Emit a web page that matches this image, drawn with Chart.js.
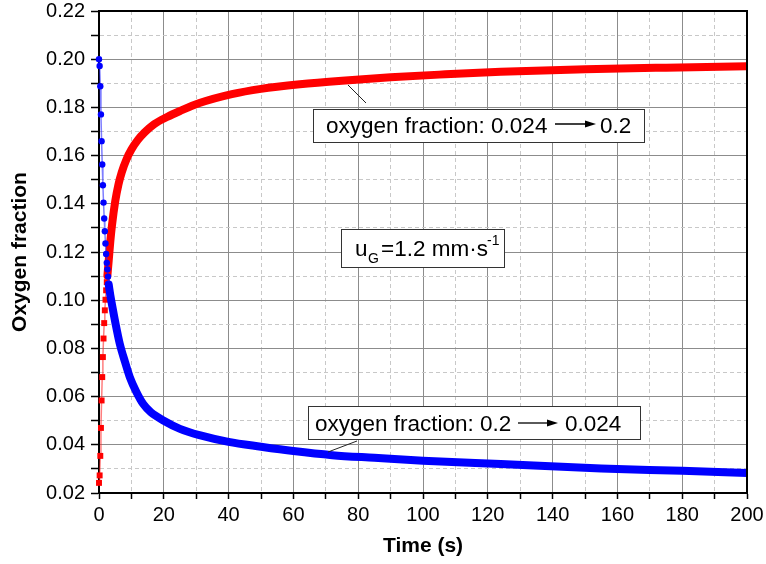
<!DOCTYPE html>
<html>
<head>
<meta charset="utf-8">
<script src="https://cdn.jsdelivr.net/npm/chart.js@4"></script>
<style>
  body { margin: 0; background: #fff; }
  #wrap { width: 766px; height: 564px; }
</style>
</head>
<body>
<div id="wrap"><canvas id="chart" width="766" height="564"></canvas></div>
<script>
// early samples (0.2 s step) drawn as individual markers
const blueStartTimes = [0, 0.2, 0.4, 0.6, 0.8, 1.0, 1.2, 1.4, 1.6, 1.8, 2.0, 2.2, 2.4, 2.6, 2.8, 3.0];
const blueStartValues = [0.2000, 0.1972, 0.1888, 0.1771, 0.1660, 0.1563, 0.1477, 0.1405, 0.1339, 0.1286, 0.1235, 0.1192, 0.1155, 0.1128, 0.1098, 0.1065];
const redStartTimes = [0, 0.2, 0.4, 0.6, 0.8, 1.0, 1.2, 1.4, 1.6, 1.8, 2.0, 2.2, 2.4, 2.6];
const redStartValues = [0.0242, 0.0273, 0.0354, 0.0470, 0.0584, 0.0681, 0.0764, 0.0841, 0.0905, 0.0958, 0.1002, 0.1041, 0.1075, 0.1103];

// dense part of the runs (markers overlap into a thick band)
const blueTimes = [3.0, 3.5, 4.0, 5.0, 6.4, 8.0, 9.5, 11.5, 13.6, 16, 20, 25, 31, 40, 50, 60, 72, 85, 100, 124, 155, 180, 200];
const blueValues = [0.1065, 0.1020, 0.0982, 0.0910, 0.0820, 0.0745, 0.0681, 0.0620, 0.0570, 0.0535, 0.0500, 0.0466, 0.0440, 0.0412, 0.0392, 0.0374, 0.0357, 0.0346, 0.0334, 0.0320, 0.0302, 0.0292, 0.0283];
const redTimes = [2.6, 3.0, 3.5, 4.0, 5.0, 6.0, 7.0, 8.5, 10, 12, 14, 17, 21, 25, 31, 41, 50, 62, 75, 90, 105, 124, 150, 175, 200];
const redValues = [0.1103, 0.1165, 0.1245, 0.1310, 0.1410, 0.1480, 0.1530, 0.1585, 0.1625, 0.1665, 0.1695, 0.1730, 0.1760, 0.1785, 0.1818, 0.1855, 0.1877, 0.1896, 0.1911, 0.1925, 0.1936, 0.1948, 0.1958, 0.1965, 0.1971];

const xRange = [0, 200];
const yRange = [0.02, 0.22];

const FONT = "'Liberation Sans', Arial, sans-serif";

function toPoints(xs, ys) {
  return xs.map((x, i) => ({ x, y: ys[i] }));
}

function isMajorX(v) { return Math.round(v) % 20 === 0; }
function isMajorY(v) { return Math.round(v * 100) % 2 === 0; }

const frameAndNotes = {
  id: "frameAndNotes",
  afterDraw(chart) {
    const { ctx, chartArea: a } = chart;
    ctx.save();

    // top and right frame
    ctx.strokeStyle = "#000";
    ctx.lineWidth = 2;
    ctx.beginPath();
    ctx.moveTo(a.left, a.top);
    ctx.lineTo(a.right, a.top);
    ctx.lineTo(a.right, a.bottom);
    ctx.stroke();

    // leader lines
    ctx.strokeStyle = "#222";
    ctx.lineWidth = 1;
    ctx.beginPath();
    ctx.moveTo(348, 85); ctx.lineTo(366, 103);
    ctx.moveTo(357, 441); ctx.lineTo(328, 452);
    ctx.stroke();

    function box(x, y, w, h) {
      ctx.fillStyle = "#fff";
      ctx.fillRect(x, y, w, h);
      ctx.strokeStyle = "#333";
      ctx.lineWidth = 1;
      ctx.strokeRect(x + 0.5, y + 0.5, w, h);
    }
    function arrow(x1, x2, y) {
      ctx.strokeStyle = "#000";
      ctx.lineWidth = 1.3;
      ctx.beginPath();
      ctx.moveTo(x1, y); ctx.lineTo(x2 - 8, y);
      ctx.stroke();
      ctx.fillStyle = "#000";
      ctx.beginPath();
      ctx.moveTo(x2, y);
      ctx.lineTo(x2 - 11, y - 3.5);
      ctx.lineTo(x2 - 11, y + 3.5);
      ctx.closePath();
      ctx.fill();
    }
    function text(s, x, y, size) {
      ctx.fillStyle = "#000";
      ctx.font = `${size}px ${FONT}`;
      ctx.textAlign = "left";
      ctx.textBaseline = "alphabetic";
      ctx.fillText(s, x, y);
    }

    box(313, 109, 331, 33);
    text("oxygen fraction: 0.024", 326, 133, 22.5);
    arrow(555, 596, 124);
    text("0.2", 600, 133, 22.5);

    box(308, 406, 332, 33);
    text("oxygen fraction: 0.2", 315, 431, 22.5);
    arrow(518, 558, 423);
    text("0.024", 565, 431, 22.5);

    box(341, 229, 163, 38);
    text("u", 355, 256, 22.5);
    text("G", 368, 263, 14);
    text("=1.2 mm\u00b7s", 381, 256, 22.5);
    text("-1", 487, 245, 14);

    ctx.restore();
  }
};

new Chart(document.getElementById("chart"), {
  type: "line",
  data: {
    datasets: [
      {
        label: "0.2 to 0.024 (start)",
        data: toPoints(blueStartTimes, blueStartValues),
        borderColor: "rgba(40, 40, 255, 0.6)",
        backgroundColor: "#0000ff",
        borderWidth: 1.5,
        pointStyle: "circle",
        pointRadius: 3.2,
        pointBorderWidth: 0,
        pointBackgroundColor: "#0000ff",
        clip: false,
        order: 0
      },
      {
        label: "0.2 to 0.024",
        data: toPoints(blueTimes, blueValues),
        borderColor: "#0000ff",
        borderWidth: 8,
        borderCapStyle: "round",
        cubicInterpolationMode: "monotone",
        pointRadius: 0,
        order: 1
      },
      {
        label: "0.024 to 0.2 (start)",
        data: toPoints(redStartTimes, redStartValues),
        borderColor: "rgba(255, 40, 40, 0.6)",
        backgroundColor: "#ff0000",
        borderWidth: 1.5,
        pointStyle: "rect",
        pointRadius: 4.2,
        pointBorderWidth: 0,
        pointBackgroundColor: "#ff0000",
        clip: false,
        order: 2
      },
      {
        label: "0.024 to 0.2",
        data: toPoints(redTimes, redValues),
        borderColor: "#ff0000",
        borderWidth: 8,
        borderCapStyle: "round",
        cubicInterpolationMode: "monotone",
        pointRadius: 0,
        order: 3
      }
    ]
  },
  options: {
    responsive: false,
    animation: false,
    layout: { padding: { left: 0, right: 19, top: 11, bottom: 0 } },
    plugins: {
      legend: { display: false },
      tooltip: { enabled: false }
    },
    scales: {
      x: {
        type: "linear",
        min: xRange[0],
        max: xRange[1],
        afterFit: (scale) => {
          scale.height = 71;
          scale.paddingLeft = 0;
          scale.paddingRight = 0;
        },
        ticks: {
          stepSize: 10,
          autoSkip: false,
          maxRotation: 0,
          padding: 4,
          color: "#000",
          font: { family: FONT, size: 20 },
          callback: (v) => (isMajorX(v) ? String(v) : "")
        },
        grid: {
          color: (ctx) => (ctx.tick && isMajorX(ctx.tick.value) ? "#8c8c8c" : "#c8c8c8"),
          lineWidth: 1,
          tickLength: 6,
          tickColor: "#000",
          tickWidth: 1.5
        },
        border: {
          color: "#000",
          width: 2,
          dash: (ctx) => (ctx.tick && !isMajorX(ctx.tick.value) ? [4, 3] : [])
        },
        title: {
          display: true,
          text: "Time (s)",
          color: "#000",
          font: { family: FONT, size: 21, weight: "bold" },
          padding: { top: 0, bottom: 5 }
        }
      },
      y: {
        type: "linear",
        min: yRange[0],
        max: yRange[1],
        afterFit: (scale) => {
          scale.width = 99;
          scale.paddingTop = 0;
          scale.paddingBottom = 0;
        },
        ticks: {
          stepSize: 0.01,
          autoSkip: false,
          padding: 6,
          color: "#000",
          font: { family: FONT, size: 20 },
          callback: (v) => (isMajorY(v) ? Number(v).toFixed(2) : "")
        },
        grid: {
          color: (ctx) => (ctx.tick && isMajorY(ctx.tick.value) ? "#8c8c8c" : "#c8c8c8"),
          lineWidth: 1,
          tickLength: 8,
          tickColor: "#000",
          tickWidth: 1.5
        },
        border: {
          color: "#000",
          width: 2,
          dash: (ctx) => (ctx.tick && !isMajorY(ctx.tick.value) ? [4, 3] : [])
        },
        title: {
          display: true,
          text: "Oxygen fraction",
          color: "#000",
          font: { family: FONT, size: 21, weight: "bold" },
          padding: { top: 8, bottom: 0 }
        }
      }
    }
  },
  plugins: [frameAndNotes]
});
</script>
</body>
</html>
